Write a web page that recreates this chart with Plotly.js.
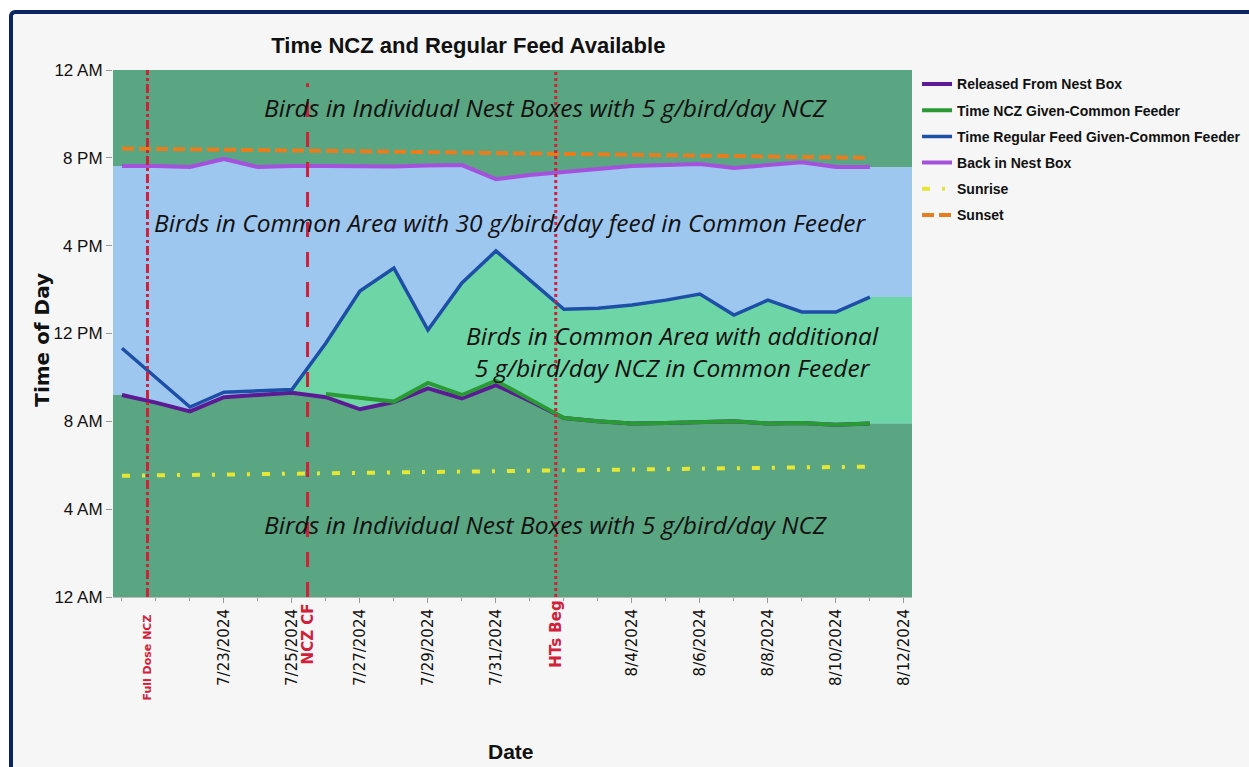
<!DOCTYPE html>
<html><head><meta charset="utf-8">
<script src="https://cdn.plot.ly/plotly-3.0.1.min.js"></script>
<style>
body{margin:0;background:#fff;}
#wrap{position:relative;width:1249px;height:767px;overflow:hidden;background:#fff;}
#bg{position:absolute;left:11px;top:12px;width:1300px;height:800px;background:#f6f6f6;}
#chart{position:absolute;left:0;top:0;width:1249px;height:767px;}
#frame{position:absolute;left:9px;top:10px;width:1300px;height:800px;border-left:4px solid #0c2462;border-top:4px solid #0c2462;border-top-left-radius:6px;pointer-events:none;}
</style></head>
<body><div id="wrap"><div id="bg"></div><div id="chart"></div><div id="frame"></div></div>
<script>
// ---- data (hours after midnight) ----
const dates = ['2024-07-20','2024-07-21','2024-07-22','2024-07-23','2024-07-24','2024-07-25','2024-07-26','2024-07-27','2024-07-28','2024-07-29','2024-07-30','2024-07-31','2024-08-01','2024-08-02','2024-08-03','2024-08-04','2024-08-05','2024-08-06','2024-08-07','2024-08-08','2024-08-09','2024-08-10','2024-08-11'];
const released = [9.2, 8.85, 8.45, 9.1, 9.2, 9.3, 9.1, 8.55, 8.88, 9.5, 9.05, 9.65, 8.93, 8.15, 8.0, 7.9, 7.92, 7.97, 8.0, 7.9, 7.92, 7.85, 7.9];
const nczGiven = [null, null, null, null, null, null, 9.25, 9.08, 8.9, 9.75, 9.2, 9.85, 9.0, 8.15, 8.0, 7.9, 7.92, 7.97, 8.0, 7.9, 7.92, 7.85, 7.9];
const regularFeed = [11.33, 10.0, 8.65, 9.33, 9.38, 9.45, 11.57, 13.93, 14.98, 12.16, 14.3, 15.76, 14.43, 13.1, 13.15, 13.3, 13.52, 13.8, 12.84, 13.52, 12.98, 12.98, 13.66];
const backInBox = [19.63, 19.63, 19.58, 19.95, 19.58, 19.63, 19.63, 19.6, 19.6, 19.65, 19.67, 19.03, 19.22, 19.35, 19.49, 19.63, 19.67, 19.72, 19.54, 19.67, 19.8, 19.58, 19.58];
const sunrise = [5.52, 5.54, 5.56, 5.58, 5.6, 5.62, 5.64, 5.66, 5.68, 5.7, 5.72, 5.74, 5.76, 5.78, 5.8, 5.82, 5.84, 5.86, 5.88, 5.89, 5.91, 5.92, 5.94];
const sunset = [20.42, 20.41, 20.39, 20.37, 20.35, 20.34, 20.32, 20.3, 20.28, 20.27, 20.25, 20.23, 20.21, 20.19, 20.17, 20.15, 20.13, 20.11, 20.09, 20.07, 20.05, 20.02, 20.0];
const tickDates = ['2024-07-23','2024-07-25','2024-07-27','2024-07-29','2024-07-31','2024-08-04','2024-08-06','2024-08-08','2024-08-10','2024-08-12'];
const tickLabels = ['7/23/2024','7/25/2024','7/27/2024','7/29/2024','7/31/2024','8/4/2024','8/6/2024','8/8/2024','8/10/2024','8/12/2024'];
const yTickVals = [0, 4, 8, 12, 16, 20, 24];
const yTickText = ['12 AM','4 AM','8 AM','12 PM','4 PM','8 PM','12 AM'];
const events = [
  {x:'2024-07-20 18:00', label:'Full Dose NCZ', dash:'dashdot'},
  {x:'2024-07-25 11:00', label:'NCZ CF', dash:'longdash'},
  {x:'2024-08-01 18:15', label:'HTs Beg', dash:'dot'}
];
const xRange = ['2024-07-19 17:40','2024-08-12 05:45'];

// ---- styling ----
const C = {dark:'#5aa582', blue:'#9ec7f0', mint:'#6ed6a6', rel:'#5c1a94', ncz:'#2a9a35', reg:'#1d4fa6', back:'#a452dc', rise:'#e6e635', set:'#e87d1e', red:'#d0203a'};
const sans = "'Liberation Sans',Arial,sans-serif";
const wide = "'DejaVu Sans',Verdana,sans-serif";
const ital = "'Open Sans','Noto Sans',sans-serif";

const last = a => a[a.length-1];
const xExt = [xRange[0], ...dates, xRange[1]];
const mStart = 5;
const mintX = [...dates.slice(mStart), xRange[1]];
const mintLow = dates.slice(mStart).map((d,i)=>{const k=i+mStart; return nczGiven[k]==null?released[k]:Math.min(released[k],nczGiven[k]);});
mintLow.push(last(mintLow));
const mintHigh = [...regularFeed.slice(mStart), last(regularFeed)];

const bgT = (x,y,fill,color)=>({x:x,y:y,mode:'lines',line:{width:0,color:'rgba(0,0,0,0)'},fill:fill,fillcolor:color,showlegend:false,hoverinfo:'skip',legendgroup:'bg'});

const traces = [
  {x:dates,y:released,name:'Released From Nest Box',legendgroup:'a',mode:'lines',line:{color:C.rel,width:4}},
  {x:dates,y:nczGiven,name:'Time NCZ Given-Common Feeder',legendgroup:'b',mode:'lines',line:{color:C.ncz,width:4}},
  {x:dates,y:regularFeed,name:'Time Regular Feed Given-Common Feeder',legendgroup:'c',mode:'lines',line:{color:C.reg,width:3.5}},
  {x:dates,y:backInBox,name:'Back in Nest Box',legendgroup:'d',mode:'lines',line:{color:C.back,width:4}},
  {x:dates,y:sunrise,name:'Sunrise',legendgroup:'e',mode:'lines',line:{color:C.rise,width:4,dash:'8px,12px,3px,12px'}},
  {x:dates,y:sunset,name:'Sunset',legendgroup:'f',mode:'lines',line:{color:C.set,width:4,dash:'12px,5px'}}
];
const fills = [
  bgT(xExt,[released[0],...released,last(released)],'none',null),
  bgT(xExt,[backInBox[0],...backInBox,last(backInBox)],'tonexty',C.blue),
  bgT(mintX,mintLow,'none',null),
  bgT(mintX,mintHigh,'tonexty',C.mint)
];

const shapes = events.map((e,i)=>({type:'line',xref:'x',yref:'y',x0:e.x,x1:e.x,y0:0,y1:(i==1?23.4:24),layer:'above',line:{color:C.red,width:3,dash:e.dash}}));

const ann = (t,x,y,extra)=>Object.assign({text:t,xref:'paper',yref:'paper',x:x,y:y,showarrow:false,xanchor:'center',yanchor:'middle'},extra);
const regionFont = {family:ital,size:24.5,color:'#111',style:'italic'};
const annotations = [
  ann('Birds in Individual Nest Boxes with 5 g/bird/day NCZ',0.542,0.928,{font:regionFont}),
  ann('Birds in Common Area with 30 g/bird/day feed in Common Feeder',0.498,0.710,{font:regionFont}),
  ann('Birds in Common Area with additional<br>5 g/bird/day NCZ in Common Feeder',0.700,0.465,{font:regionFont}),
  ann('Birds in Individual Nest Boxes with 5 g/bird/day NCZ',0.542,0.137,{font:regionFont}),
  ann('Time of Day',-0.089,0.488,{textangle:-90,font:{family:wide,size:20,color:'#111',weight:'bold'}}),
  ann('Date',0.498,-0.294,{font:{family:sans,size:21,color:'#111',weight:'bold'}}),
  ann(events[0].label,0.0,-0.114,{xref:'x',x:events[0].x,textangle:-90,font:{family:wide,size:11,color:C.red,weight:'bold'}}),
  ann(events[1].label,0.0,-0.070,{xref:'x',x:events[1].x,textangle:-90,font:{family:wide,size:15,color:C.red,weight:'bold'}}),
  ann(events[2].label,0.0,-0.070,{xref:'x',x:events[2].x,textangle:-90,font:{family:wide,size:15,color:C.red,weight:'bold'}})
];

const layout = {
  width:1249,height:767,
  margin:{l:113,r:337,t:70,b:170,autoexpand:false},
  paper_bgcolor:'rgba(0,0,0,0)',plot_bgcolor:C.dark,
  title:{text:'Time NCZ and Regular Feed Available',xref:'container',yref:'container',x:0.375,y:0.941,xanchor:'center',yanchor:'middle',font:{family:sans,size:22,color:'#111',weight:'bold'}},
  xaxis:{type:'date',range:xRange,tickvals:tickDates,ticktext:tickLabels,tickangle:-90,ticks:'outside',ticklen:5,tickcolor:'#999',automargin:false,
    tickfont:{family:wide,size:15,color:'#111'},showgrid:false,zeroline:false,showline:true,linecolor:'#bbb',
    minor:{ticks:'outside',ticklen:3,dtick:86400000,tick0:'2024-07-20',tickcolor:'#999',showgrid:false}},
  yaxis:{range:[0,24],tickvals:yTickVals,ticktext:yTickText,ticks:'outside',ticklen:6,tickcolor:'#999',showgrid:false,zeroline:false,automargin:false,
    tickfont:{family:sans,size:17,color:'#111'},showline:false},
  legend:{x:1.0063,y:1.003,xanchor:'left',yanchor:'top',traceorder:'grouped',bgcolor:'rgba(0,0,0,0)',font:{family:sans,size:14,color:'#111',weight:'bold'},tracegroupgap:5},
  shapes:shapes,annotations:annotations,showlegend:true
};
Plotly.newPlot('chart',fills.concat(traces),layout,{displayModeBar:false,staticPlot:true});
</script></body></html>
